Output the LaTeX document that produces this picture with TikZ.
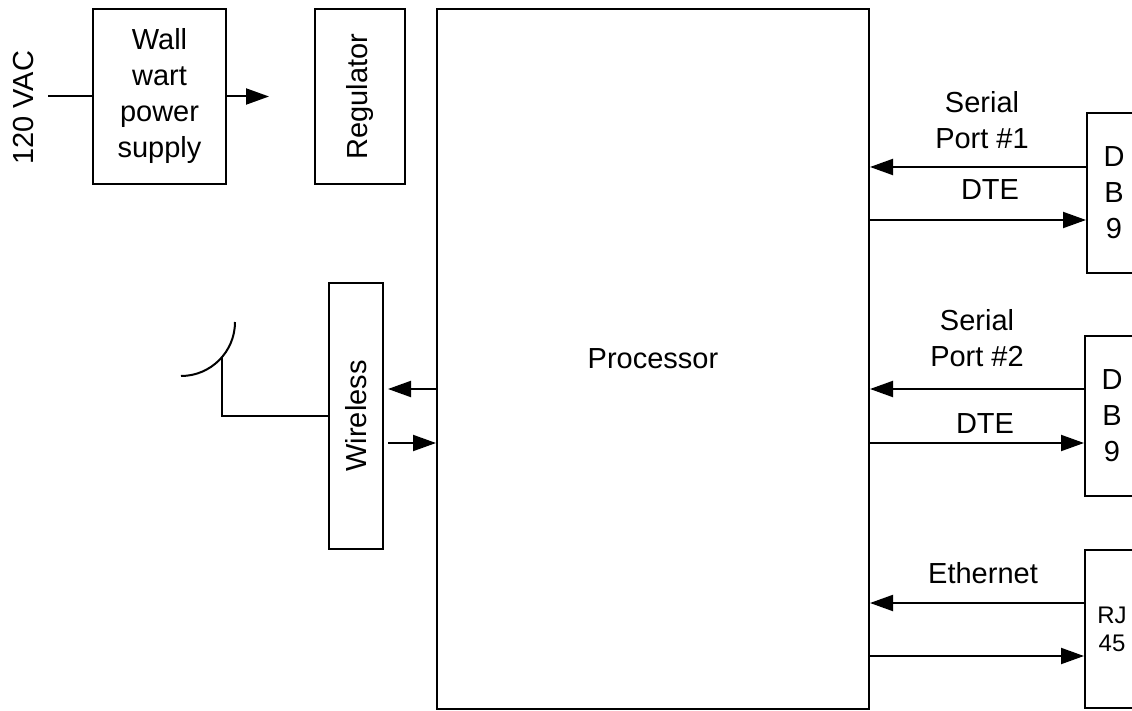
\documentclass[tikz,border=0pt]{standalone}
\usepackage{fontspec}
\setmainfont{Liberation Sans}
\usetikzlibrary{arrows.meta}
\tikzset{
  lbl/.style={font=\fontsize{29}{36}\selectfont, inner sep=0pt, align=center},
  box/.style={draw, line width=2pt, inner sep=0pt, align=center, font=\fontsize{29}{36}\selectfont},
  wire/.style={line width=2pt},
  arr/.style={line width=2pt, -{Triangle[length=23pt,width=16pt]}},
}
\begin{document}
\begin{tikzpicture}[x=1pt,y=-1pt]
\useasboundingbox (0,0) rectangle (1132,711);
\clip (0,0) rectangle (1132,711);
% left side
\node[lbl] (vac) at (24,108) {\rotatebox{90}{120 VAC}};
\node[box, minimum width=133pt, minimum height=175pt] (ww) at (159.5,96.5) {Wall\\wart\\power\\supply};
\coordinate (vin) at (48,96.5);
\coordinate (wwout) at (269,96.5);
\node[box, minimum width=90pt, minimum height=175pt] (reg) at (360,96.5) {\rotatebox{90}{Regulator}};
\node[box, minimum width=432pt, minimum height=700pt] (proc) at (653,359) {Processor};
\node[box, minimum width=54pt, minimum height=266pt] (wl) at (356,416) {\rotatebox{90}{Wireless}};
% right side boxes
\node[box, minimum width=54pt, minimum height=160pt] (db1) at (1114,193) {D\\B\\9};
\node[box, minimum width=54pt, minimum height=160pt] (db2) at (1112,416) {D\\B\\9};
\node[box, minimum width=54pt, minimum height=158pt, font=\fontsize{24}{28}\selectfont] (rj) at (1112,629) {RJ\\45};
% labels
\node[lbl] (sp1) at (982,120) {Serial\\Port \#1};
\node[lbl] (dte1) at (990,190) {DTE};
\node[lbl] (sp2) at (977,338) {Serial\\Port \#2};
\node[lbl] (dte2) at (985,424) {DTE};
\node[lbl] (eth) at (983,573) {Ethernet};
% connectors
\draw[wire] (vin) -- (ww.west);
\draw[arr] (ww.east) -- (wwout);
\draw[arr, shorten >=4pt] (proc.west |- 0,389) -- (wl.east |- 0,389);
\draw[arr, shorten <=4pt] (wl.east |- 0,443) -- (proc.west |- 0,443);
\draw[arr] (db1.west |- 0,167) -- (proc.east |- 0,167);
\draw[arr] (proc.east |- 0,220) -- (db1.west |- 0,220);
\draw[arr] (db2.west |- 0,389) -- (proc.east |- 0,389);
\draw[arr] (proc.east |- 0,443) -- (db2.west |- 0,443);
\draw[arr] (rj.west |- 0,603) -- (proc.east |- 0,603);
\draw[arr] (proc.east |- 0,656) -- (rj.west |- 0,656);
% antenna
\coordinate (anttop) at (235,322);
\coordinate (antbot) at (181,376);
\coordinate (feed) at (222,357);
\draw[wire] (anttop) .. controls (235,351.8) and (210.8,376) .. (antbot);
\draw[wire] (feed) |- (wl.west);
\end{tikzpicture}
\end{document}
